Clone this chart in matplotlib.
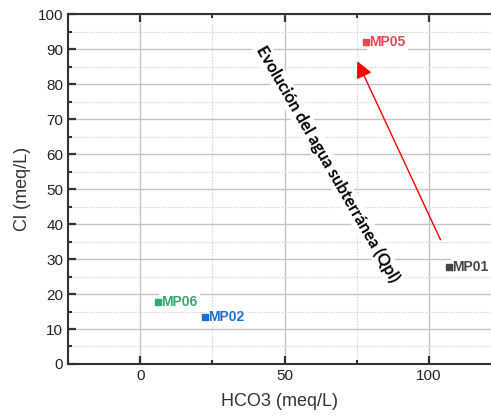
import matplotlib.pyplot as plt
from matplotlib.ticker import MultipleLocator

# ============================== data =========================================

wells = ["MP05", "MP01", "MP06", "MP02"]
hco3 = [78.2, 107.0, 6.2, 22.5]
cl = [92.0, 27.8, 17.7, 13.4]
colors = ["#e8474f", "#444444", "#35a86a", "#1f6fd8"]

arrow_start = (104.0, 35.5)
arrow_end = (75.2, 86.5)

# ============================== plot =========================================

fig = plt.figure(figsize=(4.91, 4.17), dpi=100)
ax = fig.add_axes([0.1385, 0.1271, 0.8615, 0.8393])

ax.set_xlim(-25, 121.5)
ax.set_ylim(0, 100)

ax.xaxis.set_major_locator(MultipleLocator(50))
ax.xaxis.set_minor_locator(MultipleLocator(25))
ax.yaxis.set_major_locator(MultipleLocator(10))
ax.yaxis.set_minor_locator(MultipleLocator(5))

ax.grid(which='major', color='#c4c4c4', linewidth=1.0, zorder=0)
ax.grid(which='minor', color='#d8d8d8', linewidth=0.8, linestyle=(0, (1.5, 1.2)), zorder=0)
ax.set_axisbelow(True)

for side in ['left', 'bottom', 'top']:
    ax.spines[side].set_linewidth(1.5)
    ax.spines[side].set_color('#333333')
ax.spines['right'].set_visible(False)

ax.tick_params(which='both', direction='in', top=True, right=False,
               colors='#333333', labelcolor='#222222', labelsize=11)
ax.tick_params(which='major', length=6, width=1.6)
ax.tick_params(which='minor', length=3, width=1.5)
for lab in ax.get_xticklabels() + ax.get_yticklabels():
    lab.set_family('Liberation Sans')

ax.set_xlabel('HCO3 (meq/L)', fontsize=13, family='Liberation Sans', color='#333333', labelpad=7)
ax.set_ylabel('Cl (meq/L)', fontsize=13, family='Liberation Sans', color='#333333', labelpad=5)

for name, x, y, c in zip(wells, hco3, cl, colors):
    ax.plot(x, y, 's', color=c, markersize=4.5, zorder=4)
    ax.annotate(name, (x, y), xytext=(2.5, 0), textcoords='offset points',
                ha='left', va='center', color=c, fontsize=10, fontweight='bold',
                family='Liberation Sans', zorder=3,
                bbox=dict(boxstyle='square,pad=0.15', fc='white', ec='none'))

ax.annotate('', xy=arrow_end, xytext=arrow_start,
            arrowprops=dict(arrowstyle='-|>,head_length=1.0,head_width=0.5',
                            color='#ff0000', lw=1.0, shrinkA=0, shrinkB=0), zorder=5)

ax.text(65.0, 57.2, 'Evolución del agua subterránea (Qpl)', rotation=-60,
        rotation_mode='anchor', ha='center', va='center', fontsize=12,
        fontweight='bold', family='Lato', color='black', zorder=6,
        bbox=dict(boxstyle='square,pad=0.1', fc='white', ec='none'))

plt.savefig('out.png', dpi=100)
